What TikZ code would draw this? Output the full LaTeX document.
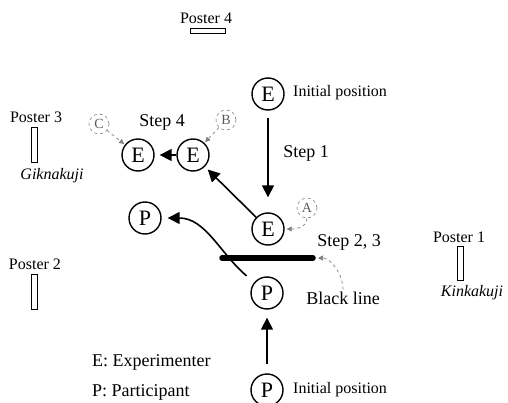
\documentclass[tikz,border=0pt]{standalone}
\usepackage{fontspec}
\setmainfont{Liberation Serif}
\usetikzlibrary{arrows.meta}
\tikzstyle{station} = [circle, draw=black, line width=1.4pt, minimum size=32pt, inner sep=0pt, font=\fontsize{22}{22}\selectfont]
\tikzstyle{repere} = [circle, draw=gray, dashed, line width=0.6pt, minimum size=20pt, inner sep=0pt, text=gray!70!black, font=\fontsize{14}{14}\selectfont]
\tikzstyle{poster} = [rectangle, draw=black, line width=1pt, inner sep=0pt]
\tikzstyle{etiquette} = [inner sep=0pt, font=\fontsize{18}{18}\selectfont]
\tikzstyle{petit} = [inner sep=0pt, font=\fontsize{16}{16}\selectfont]
\tikzstyle{move} = [line width=1.6pt, -{Triangle[length=12pt,width=12pt]}]
\tikzstyle{pointer} = [gray, dashed, line width=0.7pt, -{Triangle[length=5pt,width=5pt]}]

\begin{document}
\begin{tikzpicture}[x=1pt, y=1pt]
    \useasboundingbox (0,0) rectangle (508,402);

    % positions
    \node (eInit) [station] at (268,308) {E};
    \node (eMid) [station] at (268,173) {E};
    \node (eB) [station] at (193,247) {E};
    \node (eC) [station] at (138,247) {E};
    \node (pTarget) [station] at (145,184) {P};
    \node (pMid) [station] at (267,109) {P};
    \node (pInit) [station] at (267,12) {P};

    \node (nA) [repere] at (307,194) {A};
    \node (nB) [repere] at (226,282) {B};
    \node (nC) [repere] at (99,278) {C};

    % labels
    \node (initE) [petit, anchor=west] at (293,309) {Initial position};
    \node (initP) [petit, anchor=west] at (293,12) {Initial position};
    \node (step1) [etiquette] at (306,249) {Step 1};
    \node (step4) [etiquette] at (162,280) {Step 4};
    \node (step23) [etiquette] at (349,160) {Step 2, 3};
    \node (blackTxt) [etiquette] at (343,104) {Black line};
    \node (legE) [etiquette, anchor=west] at (92,40) {E: Experimenter};
    \node (legP) [etiquette, anchor=west] at (92,10) {P: Participant};

    % posters
    \node (poster4) [poster, minimum width=35pt, minimum height=5pt] at (207.5,370.5) {};
    \node [petit] at (206,384) {Poster 4};
    \node (poster3) [poster, minimum width=6pt, minimum height=35pt] at (34,256.5) {};
    \node [petit] at (36,285) {Poster 3};
    \node [petit, font=\fontsize{16}{16}\selectfont\itshape] at (52,226) {Giknakuji};
    \node (poster2) [poster, minimum width=6pt, minimum height=35pt] at (34,110.5) {};
    \node [petit] at (35,138) {Poster 2};
    \node (poster1) [poster, minimum width=6pt, minimum height=34pt] at (460,139) {};
    \node [petit] at (459,165) {Poster 1};
    \node [petit, font=\fontsize{16}{16}\selectfont\itshape] at (472,109) {Kinkakuji};

    % black line
    \coordinate (lineW) at (222,144);
    \coordinate (lineE) at (313,144);
    \draw[line width=5.5pt, line cap=round] (lineW) -- (lineE);

    % moves
    \draw[move, shorten <=7pt, shorten >=15pt] (eInit) -- (eMid);
    \draw[move, shorten >=4pt] (eMid) -- (eB);
    \draw[move, shorten >=5pt] (eB) -- (eC);
    \draw[move, shorten <=9pt, shorten >=8pt] (pInit) -- (pMid);
    \draw[move, shorten <=10pt, shorten >=6pt] (pMid) to[out=140, in=0] (pTarget);

    % pointers
    \draw[pointer, shorten >=2pt] (nA.south) to[out=-90, in=0] (eMid.east);
    \draw[pointer, shorten >=1pt] (nB) -- (eB);
    \draw[pointer, shorten >=1pt] (nC) -- (eC);
    \draw[pointer, shorten <=2pt, shorten >=5pt] (blackTxt.north) to[out=90, in=0] (lineE);
\end{tikzpicture}
\end{document}
